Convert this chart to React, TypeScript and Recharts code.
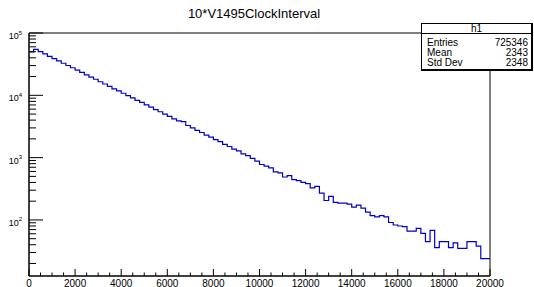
import React from "react";
import {
  ComposedChart,
  Line,
  ReferenceLine,
  XAxis,
  YAxis,
} from "recharts";

// bin contents of h1 (100 bins of width 200)
const BIN_WIDTH = 200;
const COUNTS = [
  49800, 54800, 50200, 46300, 42300, 38900, 35800, 32700, 30100, 27700,
  25300, 23400, 21300, 19600, 18100, 16500, 15200, 13900, 12700, 11800,
  10800, 9850, 9100, 8300, 7680, 7000, 6480, 5900, 5450, 4980,
  4600, 4200, 3900, 3780, 3280, 3000, 2730, 2530, 2300, 2130,
  1940, 1800, 1630, 1510, 1370, 1280, 1150, 1080, 975, 877,
  776, 728, 686, 590, 568, 489, 515, 443, 427, 401,
  383, 326, 346, 270, 205, 239, 191, 186, 186, 180,
  160, 173, 155, 133, 117, 112, 117, 112, 91, 83,
  80, 78, 66, 66, 73, 61, 45, 68, 36, 45,
  45, 36, 43, 35, 35, 45, 45, 38, 24, 24,
];

const X_TICKS = [
  0, 500, 1000, 1500, 2000, 2500, 3000, 3500, 4000, 4500, 5000, 5500, 6000,
  6500, 7000, 7500, 8000, 8500, 9000, 9500, 10000, 10500, 11000, 11500, 12000,
  12500, 13000, 13500, 14000, 14500, 15000, 15500, 16000, 16500, 17000, 17500,
  18000, 18500, 19000, 19500, 20000,
];
const Y_TICKS = [
  20, 30, 40, 50, 60, 70, 80, 90,
  100, 200, 300, 400, 500, 600, 700, 800, 900,
  1000, 2000, 3000, 4000, 5000, 6000, 7000, 8000, 9000,
  10000, 20000, 30000, 40000, 50000, 60000, 70000, 80000, 90000,
  100000,
];
const Y_MIN = 12.6;
const Y_MAX = 100000;

const TITLE = "10*V1495ClockInterval";
const STATS_NAME = "h1";
const STATS = [
  ["Entries", "725346"],
  ["Mean", "2343"],
  ["Std Dev", "2348"],
];

const FONT = "'Liberation Sans', Arial, Helvetica, sans-serif";
const LINE_COLOR = "#0000cc";

// step outline: one point per lower bin edge, plus the closing edge
const data = COUNTS.map((c, i) => ({ x: i * BIN_WIDTH, y: c }));
data.push({ x: COUNTS.length * BIN_WIDTH, y: COUNTS[COUNTS.length - 1] });

function XTick(props: any) {
  const { x, y, payload } = props;
  const v = payload.value as number;
  const major = v % 2000 === 0;
  return (
    <g>
      <line x1={x} x2={x} y1={y} y2={y - (major ? 7 : 3.5)} stroke="#000" strokeWidth={1} />
      {major && (
        <text x={x} y={y + 10.5} textAnchor="middle" fontSize={10} fontFamily={FONT} fill="#000">
          {v}
        </text>
      )}
    </g>
  );
}

function YTick(props: any) {
  const { x, y, payload } = props;
  const v = payload.value as number;
  const e = Math.log10(v);
  const major = Math.abs(e - Math.round(e)) < 1e-6;
  return (
    <g>
      <line x1={x} x2={x + (major ? 14 : 7)} y1={y} y2={y} stroke="#000" strokeWidth={1} />
      {major && (
        <text x={x - 7} y={y + 6} textAnchor="end" fontSize={9} fontFamily={FONT} fill="#000">
          10
          <tspan dy={-4.5} fontSize={6}>
            {Math.round(e)}
          </tspan>
        </text>
      )}
    </g>
  );
}

export default function App() {
  return (
    <div
      style={{
        position: "absolute",
        left: 0,
        top: 0,
        width: 534,
        height: 287,
        background: "#fff",
        fontFamily: FONT,
        overflow: "hidden",
      }}
    >
      <ComposedChart
        width={534}
        height={287}
        data={data}
        margin={{ top: 33, right: 44, left: 0, bottom: 0 }}
      >
        <XAxis
          dataKey="x"
          type="number"
          domain={[0, 20000]}
          ticks={X_TICKS}
          interval={0}
          tickSize={0}
          tickMargin={0}
          tick={<XTick />}
          axisLine={{ stroke: "#000", strokeWidth: 1.5 }}
          height={11}
          allowDataOverflow
        />
        <YAxis
          type="number"
          scale="log"
          domain={[Y_MIN, Y_MAX]}
          ticks={Y_TICKS}
          interval={0}
          tickSize={0}
          tickMargin={0}
          tick={<YTick />}
          axisLine={{ stroke: "#000", strokeWidth: 1.5 }}
          width={29}
          allowDataOverflow
        />
        <ReferenceLine y={Y_MAX} stroke="#000" strokeWidth={1} ifOverflow="extendDomain" />
        <ReferenceLine x={20000} stroke="#000" strokeWidth={1} />
        <Line
          type="stepAfter"
          dataKey="y"
          stroke={LINE_COLOR}
          strokeWidth={1.2}
          dot={false}
          activeDot={false}
          isAnimationActive={false}
        />
      </ComposedChart>

      <div
        style={{
          position: "absolute",
          left: 0,
          top: 6,
          width: 508,
          textAlign: "center",
          fontSize: 13,
          lineHeight: "15px",
          color: "#000",
        }}
      >
        {TITLE}
      </div>

      <div
        style={{
          position: "absolute",
          left: 421,
          top: 23,
          width: 112,
          height: 48,
          boxSizing: "border-box",
          background: "#fff",
          borderTop: "1px solid #000",
          borderLeft: "1px solid #000",
          borderRight: "2px solid #000",
          borderBottom: "2px solid #000",
          fontSize: 10,
          color: "#000",
        }}
      >
        <div
          style={{
            height: 9,
            lineHeight: "9px",
            textAlign: "center",
            borderBottom: "1px solid #000",
          }}
        >
          {STATS_NAME}
        </div>
        {STATS.map(([k, v], i) => (
          <div
            key={k}
            style={{
              position: "absolute",
              left: 5,
              right: 3,
              top: 13 + i * 10,
              height: 12,
              lineHeight: "12px",
              display: "flex",
              justifyContent: "space-between",
            }}
          >
            <span>{k}</span>
            <span>{v}</span>
          </div>
        ))}
      </div>
    </div>
  );
}
